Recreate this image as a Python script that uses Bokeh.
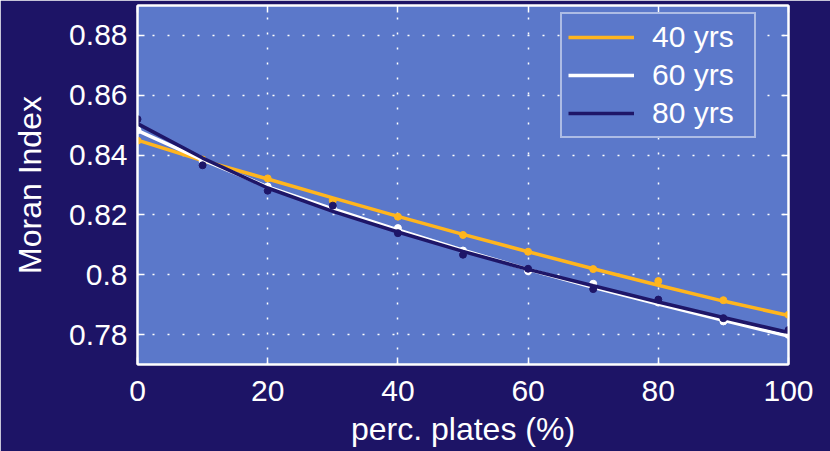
from bokeh.plotting import figure
from bokeh.models import Range1d, LinearAxis, Legend, LegendItem, FixedTicker
from bokeh.embed import file_html
from bokeh.resources import INLINE

# percentage of plates
perc = [0, 10, 20, 30, 40, 50, 60, 70, 80, 90, 100]

# measured Moran index (markers)
moran_40 = [0.8448, 0.8385, 0.8322, 0.8248, 0.8194, 0.8133, 0.8077, 0.8019, 0.7979, 0.7915, 0.7866]
moran_60 = [0.8483, 0.8380, 0.8295, 0.8222, 0.8156, 0.8081, 0.8012, 0.7970, 0.7907, 0.7844, 0.7799]
moran_80 = [0.8520, 0.8366, 0.8281, 0.8231, 0.8139, 0.8067, 0.8020, 0.7952, 0.7917, 0.7855, 0.7815]

# fitted curves
fit_40 = [0.8450, 0.8382, 0.8320, 0.8257, 0.8195, 0.8135, 0.8077, 0.8020, 0.7965, 0.7912, 0.7864]
fit_60 = [0.8482, 0.8384, 0.8294, 0.8220, 0.8150, 0.8082, 0.8018, 0.7958, 0.7902, 0.7848, 0.7795]
fit_80 = [0.8505, 0.8390, 0.8290, 0.8212, 0.8143, 0.8078, 0.8018, 0.7963, 0.7909, 0.7857, 0.7807]

series_labels = ["40 yrs", "60 yrs", "80 yrs"]

x_ticks = [0, 20, 40, 60, 80, 100]
y_ticks = [0.78, 0.80, 0.82, 0.84, 0.86, 0.88]
y_tick_labels = ["0.78", "0.8", "0.82", "0.84", "0.86", "0.88"]

BG = "#1D1466"
PLOT_BG = "#5B78CA"
ORANGE = "#FFB51E"
WHITE = "#FFFFFF"
NAVY = "#1E1668"
FONT = "Liberation Sans"

p = figure(
    width=830, height=451,
    x_range=Range1d(0, 100), y_range=Range1d(0.77, 0.89),
    output_backend="svg", toolbar_location=None,
    min_border_left=137, min_border_right=42,
    min_border_top=5, min_border_bottom=87,
    background_fill_color=PLOT_BG, border_fill_color=BG,
    outline_line_color="white", outline_line_width=2,
)

# axes: inward ticks, white labels
for ax in (p.xaxis[0], p.yaxis[0]):
    ax.major_tick_in = 7
    ax.major_tick_out = 0
    ax.minor_tick_line_color = None
    ax.major_tick_line_color = "white"
    ax.major_tick_line_width = 1.5
    ax.axis_line_color = "white"
    ax.axis_line_width = 2
    ax.major_label_text_color = "white"
    ax.major_label_text_font = FONT
    ax.major_label_text_font_size = "30px"
    ax.axis_label_text_color = "white"
    ax.axis_label_text_font = FONT
    ax.axis_label_text_font_size = "32px"
    ax.axis_label_text_font_style = "normal"

p.xaxis[0].ticker = FixedTicker(ticks=x_ticks)
p.yaxis[0].ticker = FixedTicker(ticks=y_ticks)
p.yaxis[0].major_label_overrides = dict(zip(y_ticks, y_tick_labels))
p.xaxis[0].axis_label = "perc. plates (%)"
p.yaxis[0].axis_label = "Moran Index"
p.xaxis[0].major_label_standoff = 16
p.yaxis[0].major_label_standoff = 10
p.xaxis[0].axis_label_standoff = 7
p.yaxis[0].axis_label_standoff = 18

# tick marks on the top and right edges of the box
top = LinearAxis(ticker=FixedTicker(ticks=x_ticks))
right = LinearAxis(ticker=FixedTicker(ticks=y_ticks))
for ax in (top, right):
    ax.major_tick_in = 7
    ax.major_tick_out = 0
    ax.minor_tick_line_color = None
    ax.major_tick_line_color = "white"
    ax.major_tick_line_width = 1.5
    ax.axis_line_color = "white"
    ax.axis_line_width = 2
    ax.major_label_text_font_size = "0px"
    ax.major_label_standoff = 0
p.add_layout(top, "above")
p.add_layout(right, "right")

# dotted grid
for g in (p.xgrid[0], p.ygrid[0]):
    g.grid_line_color = "white"
    g.grid_line_width = 1.5
    g.grid_line_dash = "2 13"
p.xgrid[0].ticker = FixedTicker(ticks=x_ticks)
p.ygrid[0].ticker = FixedTicker(ticks=y_ticks)

renderers = []
for fit, pts, col in ((fit_40, moran_40, ORANGE), (fit_60, moran_60, WHITE), (fit_80, moran_80, NAVY)):
    p.scatter(perc, pts, size=7, color=col)
    r = p.line(perc, fit, line_color=col, line_width=3.5)
    renderers.append(r)

legend = Legend(
    items=[LegendItem(label=lab, renderers=[r]) for lab, r in zip(series_labels, renderers)],
    location=(423, 226),
    padding=6, spacing=4, margin=0,
    glyph_width=66, glyph_height=24,
    label_standoff=18, label_height=24, label_width=96,
    label_text_font=FONT, label_text_font_size="30px",
    label_text_color="white", label_text_line_height=1.0,
    border_line_color="white", border_line_width=2,
    background_fill_color=PLOT_BG, background_fill_alpha=1.0,
)
p.add_layout(legend)

open("out.html", "w").write(file_html(p, INLINE))
